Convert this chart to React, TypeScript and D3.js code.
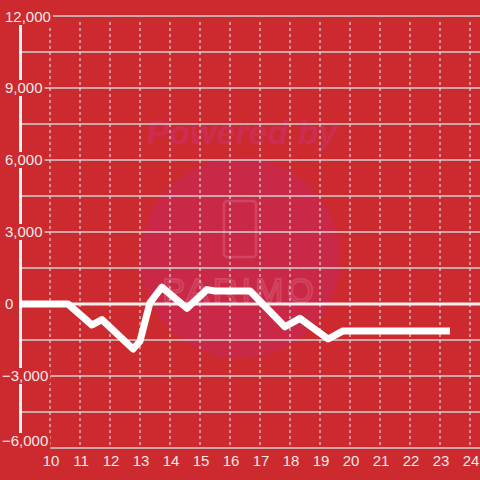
import React, { useEffect, useRef } from "react";
import * as d3 from "d3";

const hours = [9, 10.6, 11.4, 11.73, 12.77, 13.0, 13.33, 13.73, 14.57, 15.23, 15.5, 16.67, 17.83, 18.33, 19.27, 19.77, 23.33];
const values = [0, 0, -875, -650, -1875, -1550, 50, 700, -180, 600, 540, 540, -950, -600, -1460, -1120, -1120];
const xTicks = [10, 11, 12, 13, 14, 15, 16, 17, 18, 19, 20, 21, 22, 23, 24];
const yTicks = [-6000, -3000, 0, 3000, 6000, 9000, 12000];
const yGrid = [-6000, -4500, -3000, -1500, 1500, 3000, 4500, 6000, 7500, 9000, 10500, 12000];

export default function App() {
  const ref = useRef<SVGSVGElement>(null);
  useEffect(() => {
    const svg = d3.select(ref.current);
    svg.selectAll("*").remove();
    const W = 480, H = 480;
    const x = d3.scaleLinear().domain([9, 24]).range([20, 470]);
    const y = d3.scaleLinear().domain([-6000, 12000]).range([448, 16]);
    const bg = "#cc2a2e";
    const font = "'Liberation Sans', Arial, sans-serif";

    svg.append("rect").attr("width", W).attr("height", H).attr("fill", bg);

    // watermark
    const wm = svg.append("g");
    wm.append("circle").attr("cx", 240).attr("cy", 258).attr("r", 100).attr("fill", "#c92847");
    wm.append("text").text("Powered by").attr("x", 242).attr("y", 144)
      .attr("text-anchor", "middle").attr("font-family", font).attr("font-size", 34)
      .attr("font-weight", "bold").attr("font-style", "italic").attr("fill", "#cd2d50");
    wm.append("rect").attr("x", 224).attr("y", 201).attr("width", 32).attr("height", 56).attr("rx", 3)
      .attr("fill", "none").attr("stroke", "#d24460").attr("stroke-width", 2.5);
    wm.append("text").text("PARIMO").attr("x", 240).attr("y", 302)
      .attr("text-anchor", "middle").attr("font-family", font).attr("font-size", 34)
      .attr("letter-spacing", 4).attr("fill", "none").attr("stroke", "#d24460").attr("stroke-width", 2);

    // horizontal grid
    svg.append("g").selectAll("line").data(yGrid).join("line")
      .attr("x1", 22).attr("x2", W).attr("y1", d => y(d)).attr("y2", d => y(d))
      .attr("stroke", "#d2d2d2").attr("stroke-width", 1.5);

    // vertical dashed grid
    svg.append("g").selectAll("line").data(xTicks).join("line")
      .attr("x1", d => x(d)).attr("x2", d => x(d)).attr("y1", 22).attr("y2", 448)
      .attr("stroke", "#eeeeee").attr("stroke-width", 1).attr("stroke-dasharray", "3,3");

    // zero line
    svg.append("line").attr("x1", 20).attr("x2", W).attr("y1", y(0)).attr("y2", y(0))
      .attr("stroke", "#f4f0f0").attr("stroke-width", 3);

    // y axis line
    svg.append("line").attr("x1", 20.5).attr("x2", 20.5).attr("y1", 24).attr("y2", 448)
      .attr("stroke", "#f4f0f0").attr("stroke-width", 3);

    // data line
    const line = d3.line<number>()
      .x((_, i) => x(hours[i]))
      .y(d => y(d))
      .curve(d3.curveLinear);
    svg.append("path").attr("d", line(values) as string)
      .attr("fill", "none").attr("stroke", "#ffffff").attr("stroke-width", 7)
      .attr("stroke-linejoin", "round").attr("stroke-linecap", "butt");

    // y labels with background
    const fmt = d3.format(",");
    const yl = svg.append("g");
    yTicks.forEach(v => {
      const g = yl.append("g");
      const cy = Math.min(Math.max(y(v), 17), 441);
      const t = g.append("text").text(fmt(v)).attr("x", v < 0 ? 2 : 5).attr("y", cy)
        .attr("dy", "0.35em").attr("font-family", font).attr("font-size", 15).attr("fill", "#f3e8e8");
      const bb = (t.node() as SVGTextElement).getBBox();
      const top = cy - 8;
      const bottom = Math.max(cy + 8, y(v) + 1.5);
      g.insert("rect", "text").attr("x", 0).attr("y", top).attr("width", bb.x + bb.width + 2)
        .attr("height", bottom - top).attr("fill", bg);
    });

    // x labels
    svg.append("g").selectAll("text").data(xTicks).join("text")
      .text(d => String(d)).attr("x", d => x(d) + 1).attr("y", 461).attr("dy", "0.35em")
      .attr("text-anchor", "middle").attr("font-family", font).attr("font-size", 15).attr("fill", "#f3e8e8");
  }, []);
  return <svg ref={ref} width={480} height={480} style={{ position: "fixed", left: 0, top: 0 }} />;
}
